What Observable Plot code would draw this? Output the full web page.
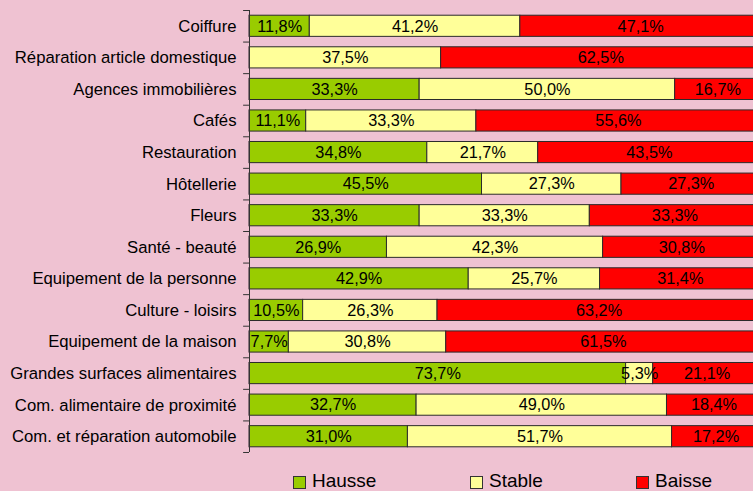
<!DOCTYPE html>
<html>
<head>
<meta charset="utf-8">
<script src="https://cdn.jsdelivr.net/npm/d3@7"></script>
<script src="https://cdn.jsdelivr.net/npm/@observablehq/plot@0.6"></script>
<style>
  html, body { margin: 0; padding: 0; background: #efc2d2; overflow: hidden; }
  #wrap { position: relative; width: 753px; height: 491px; overflow: hidden; background: #efc2d2;
          font-family: "Liberation Sans", Arial, sans-serif; }
  #legend { position: absolute; left: 0; top: 471px; width: 753px; height: 20px; }
  .item { position: absolute; top: 0; font-size: 19px; line-height: 19px; color: #000; white-space: nowrap; }
  .sw { position: absolute; top: 5px; left: 0; width: 11px; height: 11px; border: 1px solid #333; box-sizing: content-box; }
  .lab { position: absolute; left: 19px; top: 0; }
</style>
</head>
<body>
<div id="wrap"><div id="chart"></div><div id="legend"></div></div>
<script>
const categories = [
  "Coiffure",
  "Réparation article domestique",
  "Agences immobilières",
  "Cafés",
  "Restauration",
  "Hôtellerie",
  "Fleurs",
  "Santé - beauté",
  "Equipement de la personne",
  "Culture - loisirs",
  "Equipement de la maison",
  "Grandes surfaces alimentaires",
  "Com. alimentaire de proximité",
  "Com. et réparation automobile"
];
const hausse = [11.8, 0, 33.3, 11.1, 34.8, 45.5, 33.3, 26.9, 42.9, 10.5, 7.7, 73.7, 32.7, 31.0];
const stable = [41.2, 37.5, 50.0, 33.3, 21.7, 27.3, 33.3, 42.3, 25.7, 26.3, 30.8, 5.3, 49.0, 51.7];
const baisse = [47.1, 62.5, 16.7, 55.6, 43.5, 27.3, 33.3, 30.8, 31.4, 63.2, 61.5, 21.1, 18.4, 17.2];
const seriesNames = ["Hausse", "Stable", "Baisse"];
const seriesColors = ["#99cc00", "#ffff99", "#ff0000"];

const seriesValues = [hausse, stable, baisse];
const data = categories.flatMap((c, i) =>
  seriesNames.map((s, j) => ({cat: c, type: s, value: seriesValues[j][i]}))
).filter(d => d.value > 0);

const fmt = v => v.toFixed(1).replace(".", ",") + "%";

const H = 462, MT = 10, MB = 10;
const step = (H - MT - MB) / categories.length;

const chart = Plot.plot({
  width: 753,
  height: H,
  marginLeft: 249,
  marginRight: 0,
  marginTop: MT,
  marginBottom: MB,
  x: {domain: [0, 100], range: [249, 760], axis: null},
  y: {domain: categories, paddingInner: 0.33, paddingOuter: 0.165, round: false, label: null, axis: null},
  color: {domain: seriesNames, range: seriesColors},
  style: {background: "transparent", fontFamily: "'Liberation Sans', Arial, sans-serif", fontSize: "16px", color: "#000", overflow: "visible"},
  marks: [
    Plot.barX(data, Plot.stackX({x: "value", y: "cat", fill: "type", stroke: "#2b2b2b", strokeWidth: 1})),
    Plot.text(data, Plot.stackX({x: "value", y: "cat", z: "type", text: d => fmt(d.value), fill: "#000", fontSize: 16.3})),
    Plot.ruleX([0], {stroke: "#333"}),
    Plot.ruleY(categories, {y: d => d, x1: -1.15, x2: 0, dy: -step / 2, stroke: "#333"}),
    Plot.ruleY([categories[categories.length - 1]], {y: d => d, x1: -1.15, x2: 0, dy: step / 2, stroke: "#333"}),
    Plot.axisY({tickSize: 0, tickPadding: 13, fontSize: 16.7, label: null, fill: "#000"})
  ]
});
document.getElementById("chart").appendChild(chart);

const legendPos = [293, 470, 636];
const legend = document.getElementById("legend");
seriesNames.forEach((s, i) => {
  const it = document.createElement("div");
  it.className = "item";
  it.style.left = legendPos[i] + "px";
  it.innerHTML = `<span class="sw" style="background:${seriesColors[i]}"></span><span class="lab">${s}</span>`;
  legend.appendChild(it);
});
</script>
</body>
</html>
